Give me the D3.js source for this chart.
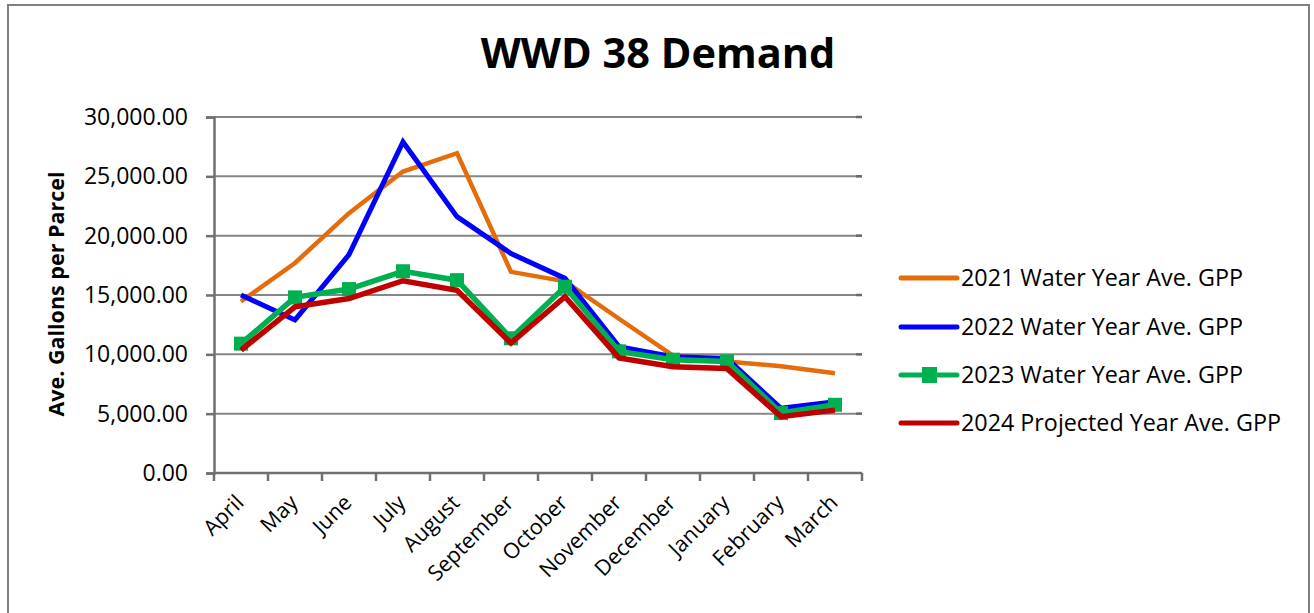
<!DOCTYPE html>
<html>
<head>
<meta charset="utf-8">
<script src="https://cdn.jsdelivr.net/npm/d3@7"></script>
<style>
  body { margin: 0; background: #fff; }
  svg { display: block; font-family: "Open Sans", sans-serif; }
</style>
</head>
<body>
<script>
// months of the water year
const months = ["April", "May", "June", "July", "August", "September", "October",
                "November", "December", "January", "February", "March"];

// average gallons per parcel
const gpp2021 = [14450, 17700, 21900, 25400, 26950, 16950, 16150, 13000, 9900, 9400, 9000, 8400];
const gpp2022 = [15000, 12900, 18400, 27900, 21600, 18500, 16400, 10650, 9800, 9650, 5450, 6000];
const gpp2023 = [10900, 14800, 15500, 17000, 16250, 11350, 15700, 10250, 9550, 9400, 5050, 5750];
const gpp2024 = [10350, 14000, 14700, 16200, 15400, 10950, 14850, 9700, 8950, 8800, 4750, 5300];

const seriesNames = ["2021 Water Year Ave. GPP", "2022 Water Year Ave. GPP",
                     "2023 Water Year Ave. GPP", "2024 Projected Year Ave. GPP"];
const seriesColors = ["#e46c0a", "#0000ff", "#00b050", "#c00000"];
const yTicks = [0, 5000, 10000, 15000, 20000, 25000, 30000];

const width = 1314, height = 613;
const svg = d3.select("body").append("svg")
  .attr("width", width)
  .attr("height", height);

// outer chart border
svg.append("rect")
  .attr("x", 8).attr("y", 5)
  .attr("width", 1301).attr("height", 620)
  .attr("fill", "none")
  .attr("stroke", "#808080")
  .attr("stroke-width", 2);

const plotLeft = 214, plotRight = 862, plotTop = 117, plotBottom = 473;

const x = d3.scaleBand().domain(months).range([plotLeft, plotRight]);
const y = d3.scaleLinear().domain([0, 30000]).range([plotBottom, plotTop]);
const fmt = d3.format(",.2f");

// title
svg.append("text")
  .attr("x", 658).attr("y", 68)
  .attr("text-anchor", "middle")
  .attr("font-size", 41.5)
  .attr("font-weight", "bold")
  .text("WWD 38 Demand");

// gridlines
svg.append("g").selectAll("line")
  .data(yTicks.filter(d => d > 0))
  .enter().append("line")
  .attr("x1", plotLeft).attr("x2", plotRight)
  .attr("y1", d => y(d)).attr("y2", d => y(d))
  .attr("stroke", "#868686")
  .attr("stroke-width", 2);

// small right-hand ticks
svg.append("g").selectAll("line")
  .data(yTicks.filter(d => d > 0))
  .enter().append("line")
  .attr("x1", plotRight - 6).attr("x2", plotRight)
  .attr("y1", d => y(d)).attr("y2", d => y(d))
  .attr("stroke", "#6a6a6a")
  .attr("stroke-width", 2.5);

// y axis
const yAxis = svg.append("g")
  .attr("transform", `translate(${plotLeft},0)`)
  .call(d3.axisLeft(y).tickValues(yTicks).tickFormat(fmt).tickSize(8).tickPadding(18));
yAxis.select(".domain").attr("stroke", "#707070").attr("stroke-width", 2.5);
yAxis.selectAll(".tick line").attr("stroke", "#707070").attr("stroke-width", 2.5);
yAxis.selectAll(".tick text")
  .attr("font-family", "Open Sans")
  .attr("font-size", 23)
  .attr("fill", "#000");

// x axis with ticks at band edges
const xAxis = svg.append("g")
  .attr("transform", `translate(0,${plotBottom})`);
xAxis.append("line")
  .attr("x1", plotLeft).attr("x2", plotRight)
  .attr("stroke", "#707070").attr("stroke-width", 2.5);
xAxis.selectAll(".xt")
  .data(months.concat(["end"]))
  .enter().append("line")
  .attr("class", "xt")
  .attr("x1", (d, i) => plotLeft + i * x.bandwidth())
  .attr("x2", (d, i) => plotLeft + i * x.bandwidth())
  .attr("y1", 0).attr("y2", 8)
  .attr("stroke", "#707070").attr("stroke-width", 2.5);
xAxis.selectAll(".xl")
  .data(months)
  .enter().append("text")
  .attr("class", "xl")
  .attr("transform", d => `translate(${x(d) + x.bandwidth() / 2 + 4},${31}) rotate(-45)`)
  .attr("text-anchor", "end")
  .attr("font-size", 21.5)
  .text(d => d);

// y axis title
svg.append("text")
  .attr("transform", "translate(64,294) rotate(-90)")
  .attr("text-anchor", "middle")
  .attr("font-size", 21.5)
  .attr("font-weight", "bold")
  .text("Ave. Gallons per Parcel");

// series lines
const allSeries = [gpp2021, gpp2022, gpp2023, gpp2024];
const line = d3.line()
  .x((d, i) => x(months[i]) + x.bandwidth() / 2)
  .y(d => y(d));
const strokeW = [4.5, 5, 5.5, 5.5];

allSeries.forEach((vals, s) => {
  svg.append("path")
    .datum(vals)
    .attr("d", line)
    .attr("fill", "none")
    .attr("stroke", seriesColors[s])
    .attr("stroke-width", strokeW[s])
    .attr("stroke-linejoin", "miter");
  if (s === 2) {
    svg.append("g").selectAll("rect")
      .data(vals)
      .enter().append("rect")
      .attr("x", (d, i) => x(months[i]) + x.bandwidth() / 2 - 7)
      .attr("y", d => y(d) - 7)
      .attr("width", 14).attr("height", 14)
      .attr("fill", seriesColors[s]);
  }
});

// legend
const legend = svg.append("g");
const legY = [278, 327, 375, 423];
seriesNames.forEach((name, s) => {
  const g = legend.append("g").attr("transform", `translate(0,${legY[s]})`);
  g.append("line")
    .attr("x1", 901).attr("x2", 957)
    .attr("stroke", seriesColors[s])
    .attr("stroke-width", 5)
    .attr("stroke-linecap", "round");
  if (s === 2) {
    g.append("rect")
      .attr("x", 922).attr("y", -8)
      .attr("width", 15).attr("height", 16)
      .attr("fill", seriesColors[s]);
  }
  g.append("text")
    .attr("x", 961).attr("y", 8)
    .attr("font-size", 23.3)
    .text(name);
});
</script>
</body>
</html>
